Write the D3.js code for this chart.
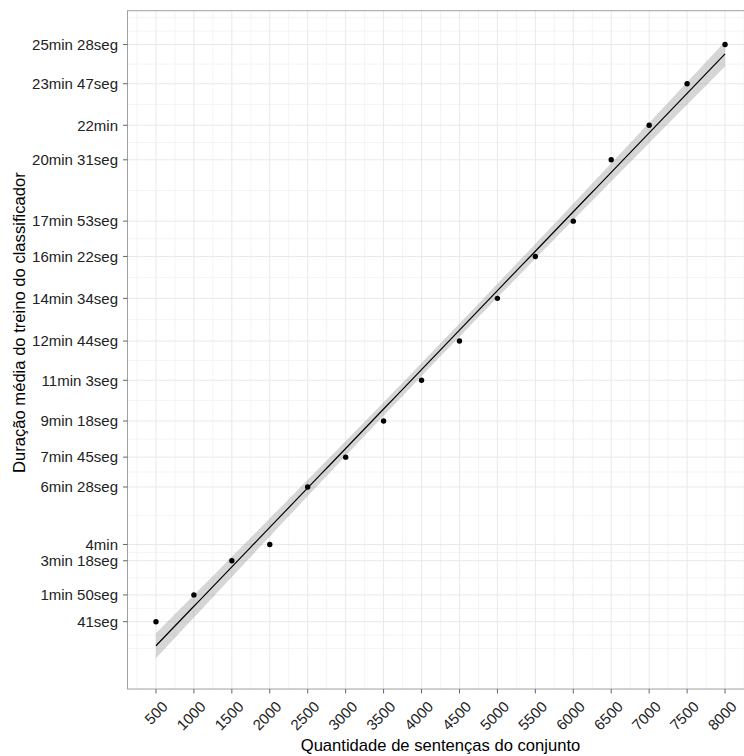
<!DOCTYPE html>
<html>
<head>
<meta charset="utf-8">
<script src="https://cdn.jsdelivr.net/npm/d3@7"></script>
<style>
  html, body { margin: 0; padding: 0; background: #fff; }
  svg { display: block; font-family: "Liberation Sans", Arial, Helvetica, sans-serif; }
</style>
</head>
<body>
<svg id="chart" width="744" height="756"></svg>
<script>
// Training set size (number of sentences)
const sentences = [500, 1000, 1500, 2000, 2500, 3000, 3500, 4000,
                   4500, 5000, 5500, 6000, 6500, 7000, 7500, 8000];
// Mean training time in seconds
const seconds = [41, 110, 198, 240, 388, 465, 558, 663,
                 764, 874, 982, 1073, 1231, 1320, 1427, 1528];
// Y tick labels, one per measured duration
const durationLabels = ["41seg", "1min 50seg", "3min 18seg", "4min", "6min 28seg",
  "7min 45seg", "9min 18seg", "11min 3seg", "12min 44seg", "14min 34seg",
  "16min 22seg", "17min 53seg", "20min 31seg", "22min", "23min 47seg", "25min 28seg"];
const xTicks = sentences;
const xTitle = "Quantidade de sentenças do conjunto";
const yTitle = "Duração média do treino do classificador";

const W = 744, H = 756;
const panel = { left: 127.5, right: 753.5, top: 10.7, bottom: 689 };
const svg = d3.select("#chart");

// Ordinary least squares fit with a 95% confidence band for the mean
const n = sentences.length;
const mx = d3.mean(sentences), my = d3.mean(seconds);
let sxx = 0, sxy = 0;
sentences.forEach((x, i) => { sxx += (x - mx) ** 2; sxy += (x - mx) * (seconds[i] - my); });
const slope = sxy / sxx, intercept = my - slope * mx;
let sse = 0;
sentences.forEach((x, i) => { sse += (seconds[i] - (intercept + slope * x)) ** 2; });
const sigma = Math.sqrt(sse / (n - 2));
const tq = 2.144787; // t quantile 0.975, 14 df
const fitX = d3.range(80).map(k => 500 + k * (8000 - 500) / 79);
const fit = fitX.map(x => {
  const yhat = intercept + slope * x;
  const se = sigma * Math.sqrt(1 / n + (x - mx) ** 2 / sxx);
  return { x, y: yhat, lo: yhat - tq * se, hi: yhat + tq * se };
});

// Scales with 5% expansion on each side
const xExt = d3.extent(sentences);
const xPad = (xExt[1] - xExt[0]) * 0.05;
const x = d3.scaleLinear().domain([xExt[0] - xPad, xExt[1] + xPad]).range([panel.left, panel.right]);
const yMin = Math.min(d3.min(seconds), d3.min(fit, d => d.lo));
const yMax = Math.max(d3.max(seconds), d3.max(fit, d => d.hi));
const yPad = (yMax - yMin) * 0.05;
const y = d3.scaleLinear().domain([yMin - yPad, yMax + yPad]).range([panel.bottom, panel.top]);

// Minor breaks: midpoints between majors, extended one step past each end
function minorBreaks(b, limits) {
  const bd = b[1] - b[0];
  let bb = b.slice();
  if (limits[0] < bb[0]) bb = [bb[0] - bd].concat(bb);
  if (limits[1] > bb[bb.length - 1]) bb.push(bb[bb.length - 1] + bd);
  const out = [];
  for (let i = 0; i < bb.length - 1; i++) { out.push(bb[i], (bb[i] + bb[i + 1]) / 2); }
  out.push(bb[bb.length - 1]);
  return out.filter(v => v >= limits[0] && v <= limits[1] && !b.includes(v));
}
const xMinor = minorBreaks(xTicks, x.domain());
const yMinor = minorBreaks(seconds, y.domain());

svg.append("rect").attr("width", W).attr("height", H).attr("fill", "#fff");
svg.append("defs").append("clipPath").attr("id", "panelClip")
  .append("rect").attr("x", panel.left).attr("y", panel.top)
  .attr("width", panel.right - panel.left).attr("height", panel.bottom - panel.top);

const grid = svg.append("g").attr("clip-path", "url(#panelClip)");
grid.selectAll(".xminor").data(xMinor).join("line")
  .attr("x1", d => x(d)).attr("x2", d => x(d)).attr("y1", panel.top).attr("y2", panel.bottom)
  .attr("stroke", "#f4f4f4").attr("stroke-width", 1);
grid.selectAll(".yminor").data(yMinor).join("line")
  .attr("y1", d => y(d)).attr("y2", d => y(d)).attr("x1", panel.left).attr("x2", panel.right)
  .attr("stroke", "#f4f4f4").attr("stroke-width", 1);
grid.selectAll(".xmajor").data(xTicks).join("line")
  .attr("x1", d => x(d)).attr("x2", d => x(d)).attr("y1", panel.top).attr("y2", panel.bottom)
  .attr("stroke", "#e9e9e9").attr("stroke-width", 1);
grid.selectAll(".ymajor").data(seconds).join("line")
  .attr("y1", d => y(d)).attr("y2", d => y(d)).attr("x1", panel.left).attr("x2", panel.right)
  .attr("stroke", "#e9e9e9").attr("stroke-width", 1);

// Confidence ribbon, fitted line and points
const plot = svg.append("g").attr("clip-path", "url(#panelClip)");
plot.append("path").datum(fit)
  .attr("d", d3.area().x(d => x(d.x)).y0(d => y(d.lo)).y1(d => y(d.hi)))
  .attr("fill", "#999999").attr("fill-opacity", 0.4);
plot.append("path").datum(fit)
  .attr("d", d3.line().x(d => x(d.x)).y(d => y(d.y)))
  .attr("fill", "none").attr("stroke", "#000").attr("stroke-width", 1.2);
plot.selectAll("circle").data(sentences).join("circle")
  .attr("cx", d => x(d)).attr("cy", (d, i) => y(seconds[i])).attr("r", 2.7)
  .attr("fill", "#000");

// Panel border
svg.append("rect").attr("x", panel.left).attr("y", panel.top)
  .attr("width", panel.right - panel.left).attr("height", panel.bottom - panel.top)
  .attr("fill", "none").attr("stroke", "#a0a0a0").attr("stroke-width", 1);

// Y axis
const yAxis = svg.append("g");
yAxis.selectAll("line").data(seconds).join("line")
  .attr("x1", panel.left - 4.5).attr("x2", panel.left).attr("y1", d => y(d)).attr("y2", d => y(d))
  .attr("stroke", "#666").attr("stroke-width", 1);
yAxis.selectAll("text").data(seconds).join("text")
  .attr("x", panel.left - 9.5).attr("y", d => y(d)).attr("dy", "0.35em")
  .attr("text-anchor", "end").attr("font-size", 15).attr("fill", "#222")
  .text((d, i) => durationLabels[i]);

// X axis
const xAxis = svg.append("g");
xAxis.selectAll("line").data(xTicks).join("line")
  .attr("x1", d => x(d)).attr("x2", d => x(d)).attr("y1", panel.bottom).attr("y2", panel.bottom + 4.5)
  .attr("stroke", "#666").attr("stroke-width", 1);
xAxis.selectAll("text").data(xTicks).join("text")
  .attr("transform", d => `translate(${x(d) + 9},${panel.bottom + 15}) rotate(-45)`)
  .attr("dy", "0.35em").attr("text-anchor", "end").attr("font-size", 15).attr("fill", "#222")
  .text(d => d);

// Axis titles
svg.append("text").attr("x", (panel.left + panel.right) / 2).attr("y", 751)
  .attr("text-anchor", "middle").attr("font-size", 16.6).attr("fill", "#000").text(xTitle);
svg.append("text").attr("transform", "translate(25,473) rotate(-90)")
  .attr("text-anchor", "start").attr("font-size", 16.6).attr("fill", "#000").text(yTitle);
</script>
</body>
</html>
